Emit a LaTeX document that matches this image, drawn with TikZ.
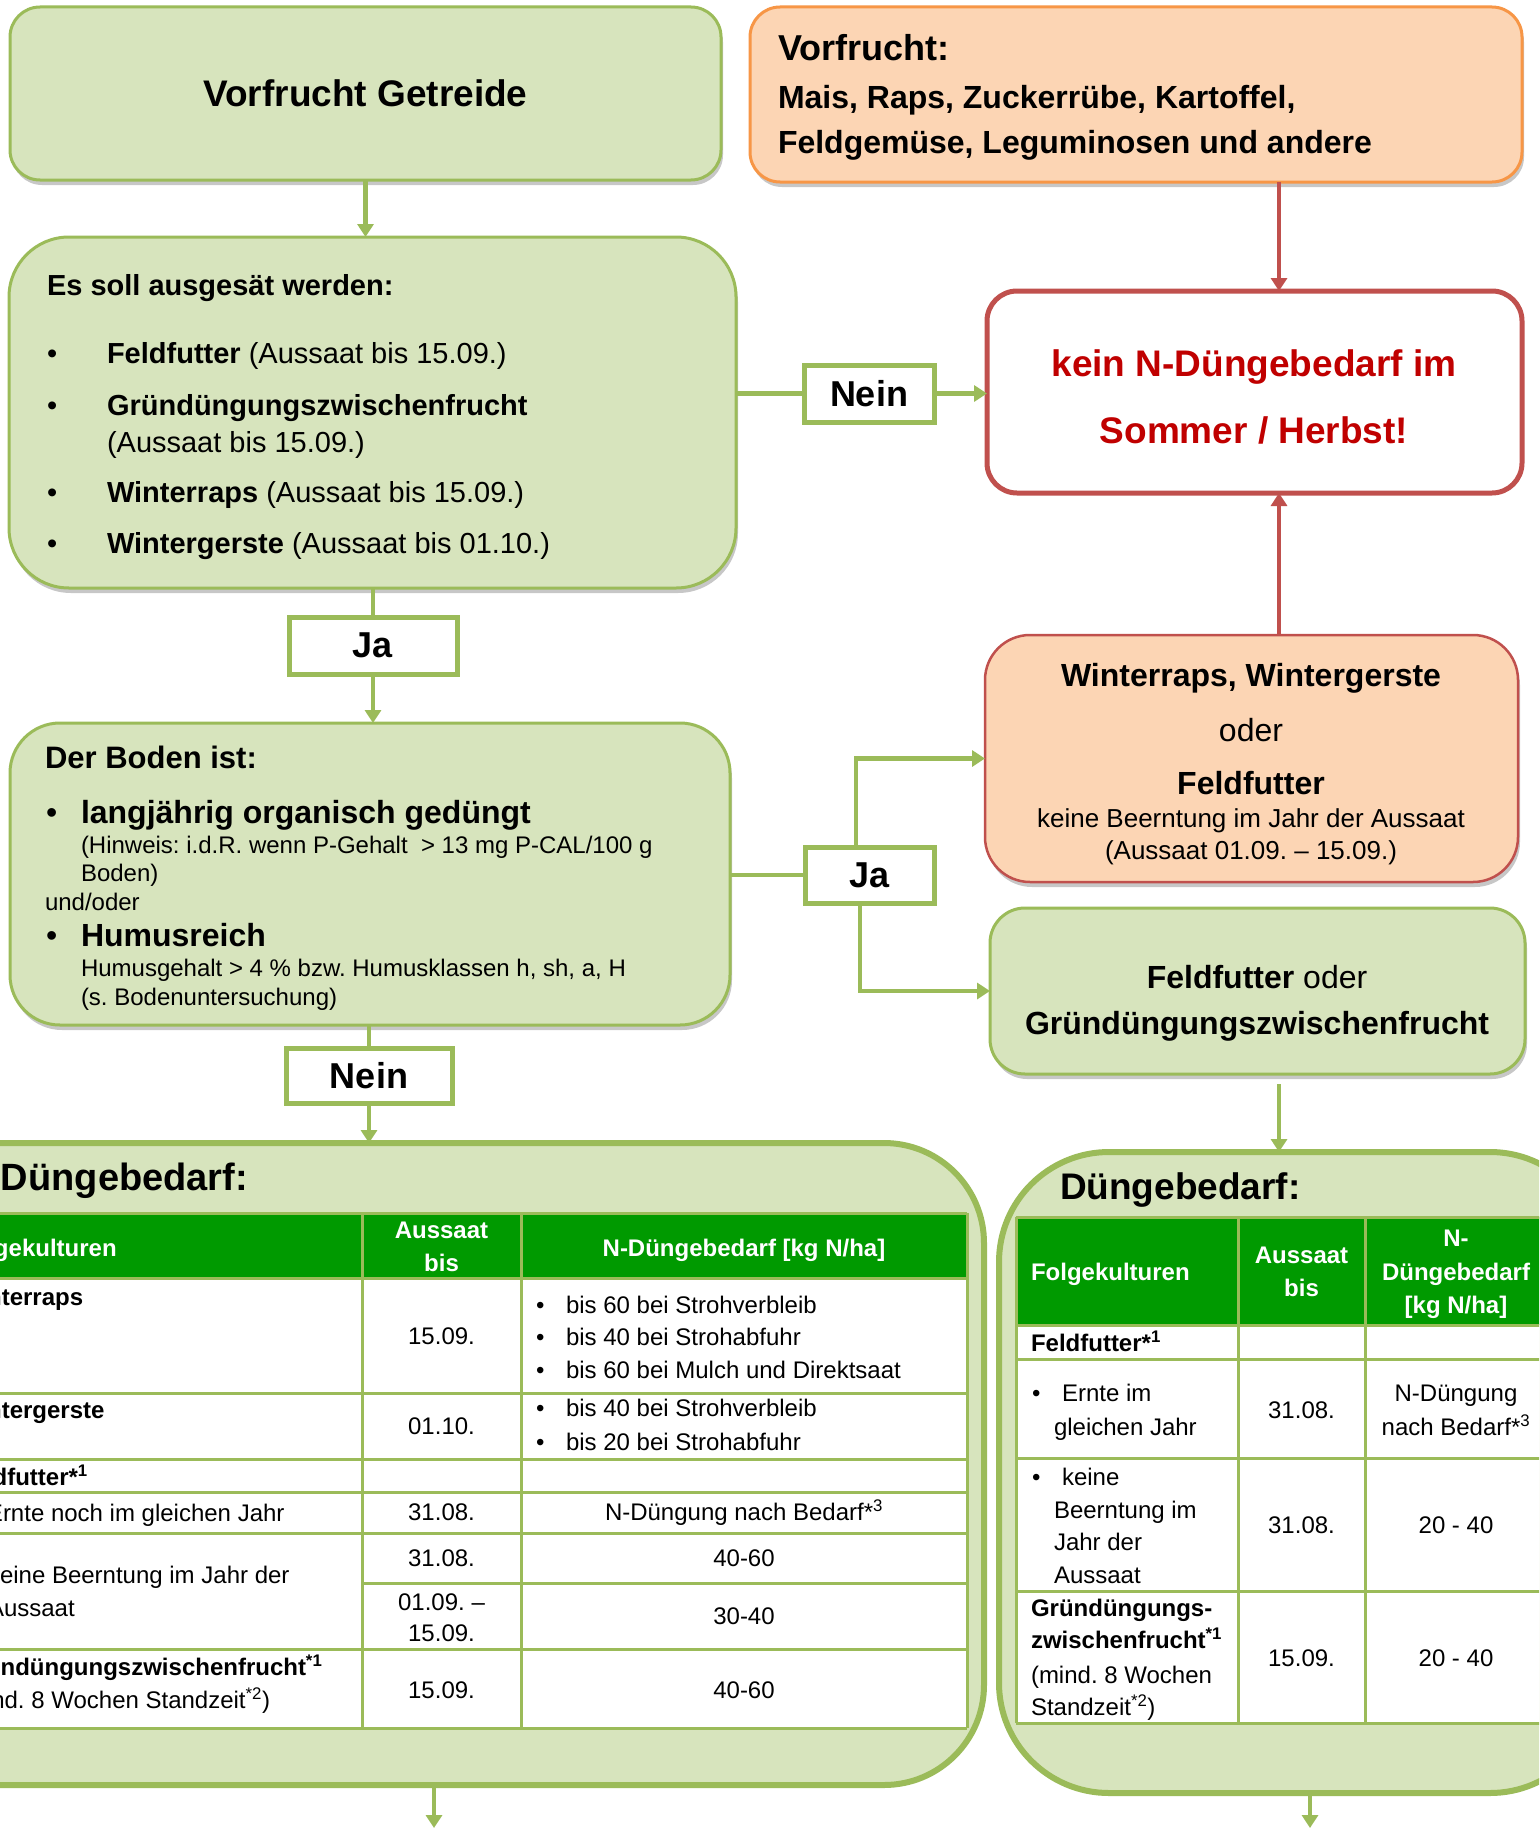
\documentclass[tikz,border=0pt]{standalone}
\usepackage{fontspec}
\setmainfont{Liberation Sans}
\usetikzlibrary{arrows.meta,shadows}
\definecolor{gfill}{HTML}{D7E4BD}
\definecolor{gline}{HTML}{9BBB59}
\definecolor{ofill}{HTML}{FCD5B4}
\definecolor{oline}{HTML}{F79646}
\definecolor{rline}{HTML}{C0504D}
\definecolor{rtext}{HTML}{C00000}
\definecolor{hgreen}{HTML}{009A00}
\tikzset{
 tw/.style={anchor=base west,inner sep=0pt,outer sep=0pt},
 tc/.style={anchor=base,inner sep=0pt,outer sep=0pt},
 shd/.style={drop shadow={opacity=0.22,shadow xshift=2pt,shadow yshift=-5pt,fill=black}},
 gbox/.style={rectangle,draw=gline,fill=gfill,line width=3pt,inner sep=0pt,outer sep=0pt},
 obox/.style={rectangle,draw=oline,fill=ofill,line width=3pt,inner sep=0pt,outer sep=0pt},
 rbox/.style={rectangle,draw=rline,fill=white,line width=5pt,inner sep=0pt,outer sep=0pt},
 wbox/.style={rectangle,draw=rline,fill=ofill,line width=2.5pt,inner sep=0pt,outer sep=0pt},
 bigbox/.style={rectangle,draw=gline,fill=gfill,line width=6pt,inner sep=0pt,outer sep=0pt},
 lbl/.style={rectangle,draw=gline,fill=white,line width=5pt,inner sep=0pt,outer sep=0pt,font=\fontsize{36}{36}\selectfont\bfseries},
 gconn/.style={draw=gline,line width=4.5pt},
 garr/.style={gconn,-{Triangle[width=16pt,length=13pt]}},
 rarr/.style={draw=rline,line width=4pt,-{Triangle[width=16pt,length=13pt]}},
 tline/.style={draw=gline,line width=3pt},
}
\newcommand\TW[5]{\node[tw] (#1) at (#2,{#3+0.36*#4}) {\fontsize{#4}{#4}\selectfont #5};}
\newcommand\TC[5]{\node[tc] (#1) at (#2,{#3+0.36*#4}) {\fontsize{#4}{#4}\selectfont #5};}
\frenchspacing
\begin{document}
\frenchspacing
\begin{tikzpicture}[x=1pt,y=-1pt]
\useasboundingbox (0,0) rectangle (1539,1828);
\clip (0,0) rectangle (1539,1828);
\fill[white] (0,0) rectangle (1539,1828);

% ---------- boxes ----------
\node[gbox,shd,rounded corners=30pt,minimum width=711pt,minimum height=173pt] (getreide) at (365.5,93.5) {\fontsize{37}{37}\selectfont\bfseries Vorfrucht Getreide};
\node[obox,shd,rounded corners=30pt,minimum width=772pt,minimum height=175pt] (vorf) at (1136,94.5) {};
\node[gbox,shd,rounded corners=60pt,minimum width=727pt,minimum height=351pt] (essoll) at (372.5,412.5) {};
\node[rbox,rounded corners=30pt,minimum width=535pt,minimum height=202pt] (kein) at (1254.5,392) {};
\node[lbl,minimum width=130pt,minimum height=57pt] (nein1) at (869,393.5) {Nein};
\node[lbl,minimum width=168pt,minimum height=57pt] (ja1) at (373,645.5) {Ja};
\node[gbox,shd,rounded corners=50pt,minimum width=720pt,minimum height=302pt] (boden) at (370,874) {};
\node[wbox,shd,rounded corners=45pt,minimum width=533pt,minimum height=247pt] (winter) at (1251.5,758.5) {};
\node[lbl,minimum width=129pt,minimum height=56pt] (ja2) at (869.5,875) {Ja};
\node[gbox,shd,rounded corners=35pt,minimum width=535pt,minimum height=166pt] (feld) at (1257.5,991) {};
\node[lbl,minimum width=166pt,minimum height=55pt] (nein2) at (369,1075.5) {Nein};
\node[bigbox,rounded corners=100pt,minimum width=1084pt,minimum height=642pt] (bigL) at (442,1464) {};
\node[bigbox,rounded corners=110pt,minimum width=601pt,minimum height=641pt] (bigR) at (1299.5,1472.5) {};

% ---------- texts in upper boxes ----------
\TW{v1}{778}{48}{36}{\bfseries Vorfrucht:}
\TW{v2}{778}{97}{32}{\bfseries Mais, Raps, Zuckerrübe, Kartoffel,}
\TW{v3}{778}{142}{32}{\bfseries Feldgemüse, Leguminosen und andere}

\TW{e0}{47}{285}{29}{\bfseries Es soll ausgesät werden:}
\TW{eb1}{47}{353}{29}{•}
\TW{e1}{107}{353}{29}{\textbf{Feldfutter} (Aussaat bis 15.09.)}
\TW{eb2}{47}{405}{29}{•}
\TW{e2}{107}{405}{29}{\bfseries Gründüngungszwischenfrucht}
\TW{e3}{107}{442}{29}{(Aussaat bis 15.09.)}
\TW{eb4}{47}{492}{29}{•}
\TW{e4}{107}{492}{29}{\textbf{Winterraps} (Aussaat bis 15.09.)}
\TW{eb5}{47}{543}{29}{•}
\TW{e5}{107}{543}{29}{\textbf{Wintergerste} (Aussaat bis 01.10.)}

\TC{k1}{1254}{363}{37}{\bfseries\color{rtext}kein N-Düngebedarf im}
\TC{k2}{1254}{430}{37}{\bfseries\color{rtext}Sommer / Herbst!}

\TW{b0}{45}{757}{31}{\bfseries Der Boden ist:}
\TW{bb1}{46}{812}{32}{•}
\TW{b1}{81}{812}{32}{\bfseries langjährig organisch gedüngt}
\TW{b2}{81}{845}{24}{(Hinweis: i.d.R. wenn P-Gehalt\ \ > 13 mg P-CAL/100 g}
\TW{b3}{81}{873}{24}{Boden)}
\TW{b4}{45}{902}{24}{und/oder}
\TW{bb5}{46}{935}{32}{•}
\TW{b5}{81}{935}{32}{\bfseries Humusreich}
\TW{b6}{81}{968}{24}{Humusgehalt > 4 \% bzw. Humusklassen h, sh, a, H}
\TW{b7}{81}{997}{24}{(s. Bodenuntersuchung)}

\TC{w1}{1251}{675}{32}{\bfseries Winterraps, Wintergerste}
\TC{w2}{1251}{730}{32}{oder}
\TC{w3}{1251}{783}{32}{\bfseries Feldfutter}
\TC{w4}{1251}{818}{26}{keine Beerntung im Jahr der Aussaat}
\TC{w5}{1251}{850}{26}{(Aussaat 01.09. – 15.09.)}

\TC{f1}{1257}{977}{32}{\textbf{Feldfutter} oder}
\TC{f2}{1257}{1023}{32}{\bfseries Gründüngungszwischenfrucht}

% ---------- left table ----------
\TW{dl}{1}{1177}{38}{\bfseries Düngebedarf:}
\fill[white] (-60,1278) rectangle (967,1728);
\fill[hgreen] (-60,1213) rectangle (967,1278);
\foreach \yy in {1213,1278,1393,1459,1492,1533,1649,1728} \draw[tline] (-60,\yy) -- (967,\yy);
\draw[tline] (362,1583) -- (967,1583);
\foreach \xx in {362,521,967} \draw[tline] (\xx,1213) -- (\xx,1728);

\TW{lh1}{-42}{1248}{24}{\bfseries\color{white}Folgekulturen}
\TC{lh2}{441.5}{1230}{24}{\bfseries\color{white}Aussaat}
\TC{lh3}{441.5}{1263}{24}{\bfseries\color{white}bis}
\TC{lh4}{744}{1248}{24}{\bfseries\color{white}N-Düngebedarf [kg N/ha]}

\TW{l1}{-42}{1297}{24}{\bfseries Winterraps}
\TC{l2}{441.5}{1336}{24}{15.09.}
\TW{l3b}{536}{1305}{24}{•}\TW{l3}{566}{1305}{24}{bis 60 bei Strohverbleib}
\TW{l4b}{536}{1337}{24}{•}\TW{l4}{566}{1337}{24}{bis 40 bei Strohabfuhr}
\TW{l5b}{536}{1370}{24}{•}\TW{l5}{566}{1370}{24}{bis 60 bei Mulch und Direktsaat}

\TW{l6}{-42}{1410}{24}{\bfseries Wintergerste}
\TC{l7}{441.5}{1426}{24}{01.10.}
\TW{l8b}{536}{1408}{24}{•}\TW{l8}{566}{1408}{24}{bis 40 bei Strohverbleib}
\TW{l9b}{536}{1442}{24}{•}\TW{l9}{566}{1442}{24}{bis 20 bei Strohabfuhr}

\TW{l10}{-42}{1477}{24}{\bfseries Feldfutter*\textsuperscript{1}}
\TW{l11}{-13}{1513}{24}{Ernte noch im gleichen Jahr}
\TC{l12}{441.5}{1512}{24}{31.08.}
\TC{l13}{744}{1512}{24}{N-Düngung nach Bedarf*\textsuperscript{3}}

\TW{l14}{-12}{1575}{24}{keine Beerntung im Jahr der}
\TW{l15}{-12}{1608}{24}{Aussaat}
\TC{l16}{441.5}{1558}{24}{31.08.}
\TC{l17}{744}{1558}{24}{40-60}
\TC{l18}{441.5}{1602}{24}{01.09. –}
\TC{l19}{441.5}{1633}{24}{15.09.}
\TC{l20}{744}{1616}{24}{30-40}

\TW{l21}{-42}{1667}{24}{\bfseries Gründüngungszwischenfrucht\textsuperscript{*1}}
\TW{l22}{-42}{1700}{24}{(mind. 8 Wochen Standzeit\textsuperscript{*2})}
\TC{l23}{441.5}{1690}{24}{15.09.}
\TC{l24}{744}{1690}{24}{40-60}

% ---------- right table ----------
\TW{dr}{1060}{1186}{37}{\bfseries Düngebedarf:}
\fill[white] (1016,1325) rectangle (1547,1723);
\fill[hgreen] (1016,1217) rectangle (1547,1325);
\foreach \yy in {1217,1325,1359,1458,1591,1723} \draw[tline] (1016,\yy) -- (1547,\yy);
\foreach \xx in {1016,1238,1365,1547} \draw[tline] (\xx,1217) -- (\xx,1723);

\TW{rh1}{1031}{1272}{24}{\bfseries\color{white}Folgekulturen}
\TC{rh2}{1301.5}{1255}{24}{\bfseries\color{white}Aussaat}
\TC{rh3}{1301.5}{1288}{24}{\bfseries\color{white}bis}
\TC{rh4}{1456}{1238}{24}{\bfseries\color{white}N-}
\TC{rh5}{1456}{1272}{24}{\bfseries\color{white}Düngebedarf}
\TC{rh6}{1456}{1305}{24}{\bfseries\color{white}[kg N/ha]}

\TW{r1}{1031}{1343}{24}{\bfseries Feldfutter*\textsuperscript{1}}
\TW{r2b}{1032}{1393}{24}{•}
\TW{r2}{1062}{1393}{24}{Ernte im}
\TW{r3}{1054}{1427}{24}{gleichen Jahr}
\TC{r4}{1301.5}{1410}{24}{31.08.}
\TC{r5}{1456}{1393}{24}{N-Düngung}
\TC{r6}{1456}{1427}{24}{nach Bedarf*\textsuperscript{3}}

\TW{r7b}{1032}{1477}{24}{•}
\TW{r7}{1062}{1477}{24}{keine}
\TW{r8}{1054}{1510}{24}{Beerntung im}
\TW{r9}{1054}{1542}{24}{Jahr der}
\TW{r10}{1054}{1575}{24}{Aussaat}
\TC{r11}{1301.5}{1525}{24}{31.08.}
\TC{r12}{1456}{1525}{24}{20 - 40}

\TW{r13}{1031}{1608}{24}{\bfseries Gründüngungs-}
\TW{r14}{1031}{1640}{24}{\bfseries zwischenfrucht\textsuperscript{*1}}
\TW{r15}{1031}{1675}{24}{(mind. 8 Wochen}
\TW{r16}{1031}{1707}{24}{Standzeit\textsuperscript{*2})}
\TC{r17}{1301.5}{1658}{24}{15.09.}
\TC{r18}{1456}{1658}{24}{20 - 40}

% ---------- connectors ----------
\coordinate (cx1) at (1279,0);
\coordinate (up) at (856,759);
\coordinate (dn) at (860,992);
\coordinate (fs) at ([yshift=-10pt]feld.south);
\coordinate (eL) at (434,1828);
\coordinate (eR) at (1310,1828);
\draw[garr] (getreide.south) -- (getreide.south |- essoll.north);
\draw[rarr] (vorf.south -| cx1) -- (kein.north -| cx1);
\draw[gconn] (essoll.east |- nein1.west) -- (nein1.west);
\draw[garr] (nein1.east) -- (kein.west |- nein1.east);
\draw[gconn] (essoll.south -| ja1.north) -- (ja1.north);
\draw[garr] (ja1.south) -- (ja1.south |- boden.north);
\draw[rarr] (winter.north -| cx1) -- (kein.south -| cx1);
\draw[gconn] (boden.east |- ja2.west) -- (ja2.west);
\draw[garr] (ja2.north -| up) |- (winter.west);
\draw[garr] (ja2.south -| dn) |- (feld.west);
\draw[gconn] (boden.south -| nein2.north) -- (nein2.north);
\draw[garr] (nein2.south) -- (nein2.south |- bigL.north);
\draw[garr] (fs -| cx1) -- (bigR.north -| cx1);
\draw[garr] (bigL.south -| eL) -- (eL);
\draw[garr] (bigR.south -| eR) -- (eR);
\end{tikzpicture}
\end{document}
